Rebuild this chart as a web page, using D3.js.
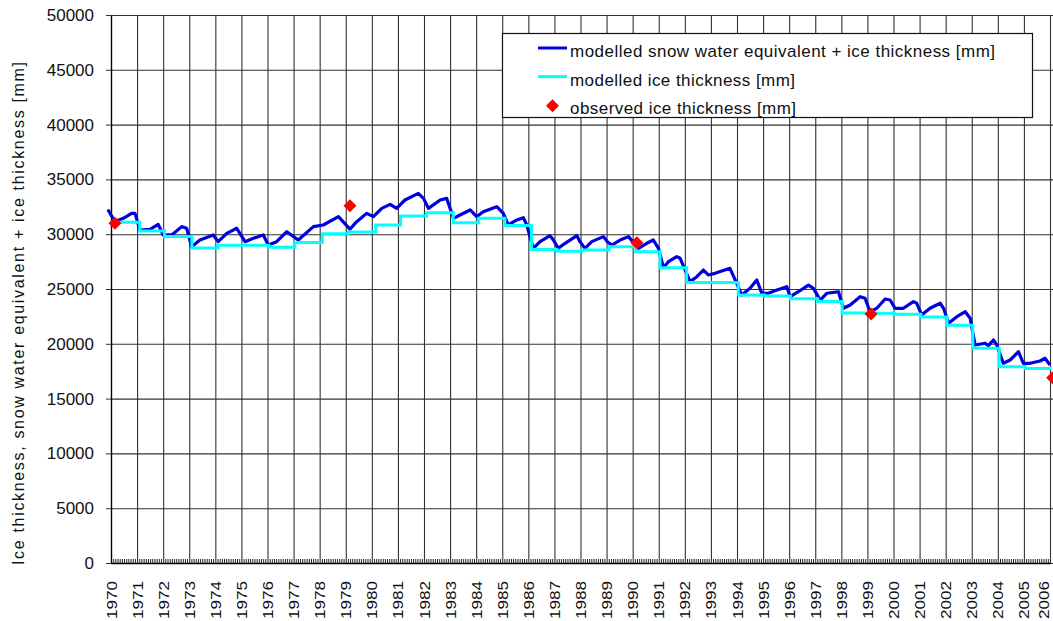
<!DOCTYPE html>
<html>
<head>
<meta charset="utf-8">
<script src="https://cdn.jsdelivr.net/npm/d3@7"></script>
<style>
  body { margin: 0; background: #fff; }
  svg { display: block; font-family: "Liberation Sans", Arial, sans-serif; }
</style>
</head>
<body>
<svg id="chart" width="1053" height="621"></svg>
<script>
// tick labels
const yearTicks = [1970, 1971, 1972, 1973, 1974, 1975, 1976, 1977, 1978, 1979, 1980, 1981, 1982,
  1983, 1984, 1985, 1986, 1987, 1988, 1989, 1990, 1991, 1992, 1993, 1994, 1995, 1996, 1997,
  1998, 1999, 2000, 2001, 2002, 2003, 2004, 2005, 2006];
const valueTicks = [0, 5000, 10000, 15000, 20000, 25000, 30000, 35000, 40000, 45000, 50000];

// modelled ice thickness (step after each date)
const iceDates = [1970.0, 1971.1, 1972.05, 1973.1, 1974.1, 1975.1, 1976.05, 1977.05, 1978.1,
  1979.1, 1980.15, 1981.1, 1982.1, 1983.12, 1984.1, 1985.1, 1986.12, 1987.1, 1988.05, 1989.1,
  1990.12, 1991.05, 1992.07, 1993.05, 1994.05, 1995.05, 1996.05, 1997.1, 1998.03, 1999.05,
  2000.05, 2001.05, 2002.05, 2003.04, 2004.05, 2005.05, 2006.05];
const iceValues = [31100, 30300, 29800, 28750, 29000, 29000, 28800, 29250, 30050,
  30200, 30850, 31650, 31950, 31050, 31450, 30800, 28600, 28450, 28550, 28850,
  28400, 26950, 25600, 25600, 24450, 24350, 24100, 23850, 22800, 22780,
  22700, 22450, 21700, 19600, 17900, 17750, 17750];

// modelled snow water equivalent + ice thickness
const sweDates = [1969.88, 1970.15, 1970.47, 1970.79, 1970.92, 1971.11, 1971.5, 1971.81, 1972.0,
  1972.33, 1972.71, 1972.9, 1973.09, 1973.41, 1973.92, 1974.11, 1974.44, 1974.82, 1975.14,
  1975.46, 1975.84, 1976.03, 1976.35, 1976.74, 1977.18, 1977.76, 1978.14, 1978.72, 1979.16,
  1979.42, 1979.8, 1980.06, 1980.38, 1980.7, 1980.95, 1981.27, 1981.78, 1981.98, 1982.17,
  1982.62, 1982.87, 1983.13, 1983.38, 1983.77, 1984.02, 1984.27, 1984.79, 1985.04, 1985.23,
  1985.56, 1985.81, 1985.94, 1986.19, 1986.45, 1986.83, 1986.96, 1987.15, 1987.41, 1987.86,
  1987.98, 1988.17, 1988.43, 1988.88, 1989.03, 1989.2, 1989.52, 1989.84, 1990.22, 1990.54,
  1990.79, 1990.99, 1991.18, 1991.37, 1991.69, 1991.82, 1992.2, 1992.46, 1992.71, 1992.9,
  1993.16, 1993.73, 1993.99, 1994.18, 1994.5, 1994.76, 1994.95, 1995.2, 1995.53, 1995.91,
  1996.04, 1996.35, 1996.74, 1996.93, 1997.19, 1997.44, 1997.89, 1998.08, 1998.34, 1998.72,
  1998.91, 1999.1, 1999.36, 1999.68, 1999.87, 2000.06, 2000.38, 2000.76, 2000.89, 2001.08,
  2001.4, 2001.79, 2001.92, 2002.11, 2002.43, 2002.75, 2002.94, 2003.13, 2003.51, 2003.64,
  2003.83, 2003.96, 2004.21, 2004.47, 2004.79, 2004.98, 2005.24, 2005.62, 2005.81, 2006.0];
const sweValues = [32250, 31150, 31450, 31900, 31900, 30380, 30440, 30900, 29930,
  29930, 30690, 30540, 28860, 29470, 29930, 29320, 30080, 30540, 29320,
  29630, 29930, 29010, 29320, 30230, 29470, 30690, 30840, 31600, 30470,
  31140, 31900, 31600, 32360, 32720, 32360, 33120, 33730, 33270, 32360,
  33120, 33270, 31450, 31750, 32210, 31600, 32050, 32510, 31900, 30840,
  31300, 31510, 30840, 28710, 29320, 29870, 29470, 28710, 29170, 29870,
  29320, 28710, 29320, 29780, 29320, 29010, 29470, 29780, 28710, 29170,
  29470, 28710, 26940, 27490, 27950, 27800, 25670, 26120, 26730, 26280,
  26430, 26890, 25520, 24450, 25060, 25820, 24610, 24610, 24910, 25210,
  24300, 24750, 25360, 25060, 23990, 24610, 24750, 23240, 23540, 24300,
  24150, 22930, 23240, 24090, 24000, 23240, 23240, 23850, 23700, 22630,
  23240, 23700, 23240, 21870, 22470, 22930, 22330, 19890, 20050, 19830,
  20350, 19890, 18220, 18520, 19280, 18220, 18220, 18430, 18680, 18070];

// observed ice thickness
const obsDates = [1970.15, 1979.16, 1990.16, 1999.14, 2006.1];
const obsValues = [31000, 32600, 29220, 22720, 16900];

const svg = d3.select('#chart');
const W = 1053;

const x = d3.scaleLinear().domain([1970, 2006]).range([111, 1050]);
const y = d3.scaleLinear().domain([0, 50000]).range([563, 15]);

// horizontal grid
svg.append('g')
    .attr('transform', `translate(${x(1970)},0)`)
    .call(d3.axisLeft(y).tickValues(valueTicks).tickSize(-(W - x(1970) + 10)).tickFormat(''))
    .call(g => g.select('.domain').remove())
    .selectAll('line').attr('stroke', '#333').attr('stroke-width', 1.1);

// vertical grid
svg.append('g')
    .attr('transform', `translate(0,${y(0)})`)
    .call(d3.axisBottom(x).tickValues(yearTicks).tickSize(-(y(0) - y(50000))).tickFormat(''))
    .call(g => g.select('.domain').remove())
    .selectAll('line').attr('stroke', '#333').attr('stroke-width', 1.1);

// monthly minor ticks along the bottom
const monthTicks = [];
yearTicks.slice(0, -1).forEach(yr => {
    for (let m = 1; m < 12; m++) monthTicks.push(yr + m / 12);
});
svg.append('g')
    .attr('transform', `translate(0,${y(0)})`)
    .call(d3.axisBottom(x).tickValues(monthTicks).tickSize(-4).tickFormat(''))
    .call(g => g.select('.domain').remove())
    .selectAll('line').attr('stroke', '#222');

// y axis with labels
svg.append('g')
    .attr('transform', `translate(${x(1970)},0)`)
    .call(d3.axisLeft(y).tickValues(valueTicks).tickSize(5).tickPadding(12).tickSizeOuter(0)
        .tickFormat(d3.format('d')))
    .call(g => g.select('.domain').attr('stroke', '#000').attr('stroke-width', 1.3))
    .call(g => g.selectAll('line').attr('stroke', '#333'))
    .selectAll('text')
    .attr('font-size', 17)
    .attr('fill', '#111');

// x axis with rotated year labels
svg.append('g')
    .attr('transform', `translate(0,${y(0)})`)
    .call(d3.axisBottom(x).tickValues(yearTicks).tickSize(0).tickFormat(d3.format('d')))
    .call(g => g.select('.domain').attr('stroke', '#000').attr('stroke-width', 1.3))
    .selectAll('text')
    .attr('transform', 'rotate(-90)')
    .attr('text-anchor', 'end')
    .attr('x', -18)
    .attr('y', d => d === 2006 ? -7 : 0)   // keep the last label inside the frame
    .attr('dy', '0.36em')
    .attr('font-size', 14)
    .attr('textLength', 38)
    .attr('lengthAdjust', 'spacingAndGlyphs')
    .attr('fill', '#111');

// y title
svg.append('text')
    .attr('transform', 'translate(19.5,313.5) rotate(-90)')
    .attr('text-anchor', 'middle')
    .attr('dominant-baseline', 'middle')
    .attr('font-size', 16)
    .attr('textLength', 503)
    .attr('lengthAdjust', 'spacing')
    .attr('fill', '#111')
    .text('Ice thickness, snow water equivalent + ice thickness [mm]');

// series
const sweData = sweDates.map((d, i) => [d, sweValues[i]]);
const iceData = iceDates.map((d, i) => [d, iceValues[i]]);
const obsData = obsDates.map((d, i) => [d, obsValues[i]]);

svg.append('path')
    .datum(sweData)
    .attr('fill', 'none')
    .attr('stroke', '#0000e0')
    .attr('stroke-width', 3.2)
    .attr('stroke-linejoin', 'round')
    .attr('d', d3.line().x(d => x(d[0])).y(d => y(d[1])));

svg.append('path')
    .datum(iceData)
    .attr('fill', 'none')
    .attr('stroke', '#00ffff')
    .attr('stroke-width', 3)
    .attr('d', d3.line().curve(d3.curveStepAfter).x(d => x(d[0])).y(d => y(d[1])));

const diamond = 'M0,-6.5L6.5,0L0,6.5L-6.5,0Z';
svg.append('g').selectAll('path')
    .data(obsData)
    .join('path')
    .attr('transform', d => `translate(${x(d[0])},${y(d[1])})`)
    .attr('d', diamond)
    .attr('fill', '#ff0000');

// legend
const legend = svg.append('g');
legend.append('rect')
    .attr('x', 502.5).attr('y', 33.5)
    .attr('width', 530).attr('height', 84)
    .attr('fill', '#fff').attr('stroke', '#111').attr('stroke-width', 1.2);

const legendItems = [
    { label: 'modelled snow water equivalent + ice thickness [mm]', kind: 'line', color: '#0000e0', len: 425 },
    { label: 'modelled ice thickness [mm]', kind: 'line', color: '#00ffff', len: 225 },
    { label: 'observed ice thickness [mm]', kind: 'diamond', color: '#ff0000', len: 226 }
];
legendItems.forEach((item, i) => {
    const cy = 48 + i * 28.6;
    if (item.kind === 'line') {
        legend.append('line')
            .attr('x1', 538).attr('x2', 567).attr('y1', cy).attr('y2', cy)
            .attr('stroke', item.color).attr('stroke-width', 3);
    } else {
        legend.append('path')
            .attr('transform', `translate(552.5,${cy + 0.5})`)
            .attr('d', diamond)
            .attr('fill', item.color);
    }
    legend.append('text')
        .attr('x', 570)
        .attr('y', cy + 9)
        .attr('font-size', 17)
        .attr('textLength', item.len)
        .attr('lengthAdjust', 'spacing')
        .attr('fill', '#111')
        .text(item.label);
});
</script>
</body>
</html>
